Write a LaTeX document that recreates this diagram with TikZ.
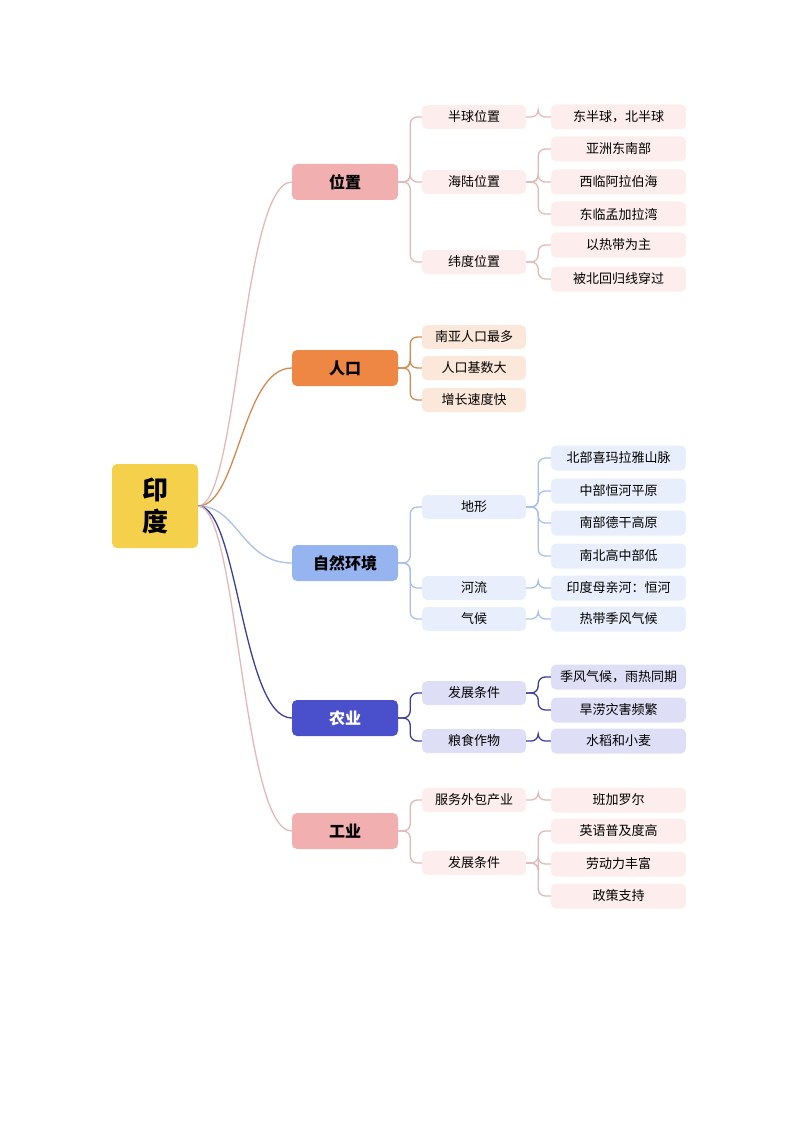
\documentclass[tikz,border=0pt]{standalone}
\usepackage{fontspec}
\newfontfamily\cjk{Noto Sans CJK SC}
\usetikzlibrary{positioning}

\begin{document}
\begin{tikzpicture}[x=1pt, y=-1pt,
    box/.style={rounded corners=5pt, inner sep=0pt, align=center},
    lvone/.style={box, minimum width=106pt, minimum height=36pt, font=\cjk\bfseries\fontsize{16}{18}\selectfont},
    lvtwo/.style={box, minimum width=104pt, minimum height=24pt, font=\cjk\fontsize{13}{15}\selectfont},
    lvthree/.style={box, minimum width=135pt, minimum height=25pt, font=\cjk\fontsize{13}{15}\selectfont},
    link/.style={line width=1.3pt, rounded corners=7pt}]
    % Colors
    \definecolor{rootcolor}{HTML}{F5D04A}
    \definecolor{pinkmain}{HTML}{F2AFAF}
    \definecolor{pinksub}{HTML}{FDEDED}
    \definecolor{pinkline}{HTML}{E2B8B8}
    \definecolor{orangemain}{HTML}{EE8644}
    \definecolor{orangesub}{HTML}{FCE8DA}
    \definecolor{orangeline}{HTML}{D38A50}
    \definecolor{bluemain}{HTML}{95B4F0}
    \definecolor{bluesub}{HTML}{E8EEFB}
    \definecolor{blueline}{HTML}{A9C1E8}
    \definecolor{indigomain}{HTML}{4A4FCC}
    \definecolor{indigosub}{HTML}{DEDEF6}
    \definecolor{indigoline}{HTML}{3A3F99}

    % Page
    \useasboundingbox (0,0) rectangle (794,1123);

    % Root
    \node[box, fill=rootcolor, minimum width=86pt, minimum height=84pt,
      font=\cjk\bfseries\fontsize{26}{32}\selectfont] (india) at (155,506) {印\\度};

    % Main branches
    \node[lvone, fill=pinkmain] (weizhi) at (345,182) {位置};
    \node[lvone, fill=orangemain] (renkou) at (345,368) {人口};
    \node[lvone, fill=bluemain] (ziran) at (345,563) {自然环境};
    \node[lvone, fill=indigomain, text=white] (nongye) at (345,718) {农业};
    \node[lvone, fill=pinkmain] (gongye) at (345,831) {工业};

    \foreach \n/\c in {weizhi/pinkline, renkou/orangeline, ziran/blueline, nongye/indigoline, gongye/pinkline}
      \draw[line width=1.3pt, \c] (india.east) .. controls +(40,0) and +(-50,0) .. (\n.west);

    % Second level
    \foreach \n/\y/\t/\f in {bqwz/117/半球位置/pinksub, hlwz/182/海陆位置/pinksub, wdwz/262/纬度位置/pinksub,
        nyrk/337/南亚人口最多/orangesub, rkjs/368/人口基数大/orangesub, zzsd/400/增长速度快/orangesub,
        dixing/507/地形/bluesub, heliu/588/河流/bluesub, qihou/619/气候/bluesub,
        nytj/693/发展条件/indigosub, lszw/741/粮食作物/indigosub,
        fwwb/800/服务外包产业/pinksub, gytj/863/发展条件/pinksub}
      \node[lvtwo, fill=\f] (\n) at (474,\y) {\t};

    % Third level
    \foreach \n/\y/\t/\f in {dbq/117/东半球，北半球/pinksub, yzdn/149/亚洲东南部/pinksub, xlab/182/西临阿拉伯海/pinksub,
        dlmj/214/东临孟加拉湾/pinksub, rdwz/245/以热带为主/pinksub, bhgx/279/被北回归线穿过/pinksub,
        bbxm/458/北部喜玛拉雅山脉/bluesub, zbhh/491/中部恒河平原/bluesub, nbdg/523/南部德干高原/bluesub,
        nbgd/556/南北高中部低/bluesub, mqh/588/印度母亲河：恒河/bluesub, rdjf/619/热带季风气候/bluesub,
        jfqh/677/季风气候，雨热同期/indigosub, hlzh/710/旱涝灾害频繁/indigosub, sdxm/741/水稻和小麦/indigosub,
        bjle/800/班加罗尔/pinksub, yypj/831/英语普及度高/pinksub, ldlf/864/劳动力丰富/pinksub, zczc/896/政策支持/pinksub}
      \node[lvthree, fill=\f] (\n) at (618.5,\y) {\t};

    % Links from main branches
    \foreach \a/\b/\c in {weizhi/bqwz/pinkline, weizhi/hlwz/pinkline, weizhi/wdwz/pinkline,
        renkou/nyrk/orangeline, renkou/rkjs/orangeline, renkou/zzsd/orangeline,
        ziran/dixing/blueline, ziran/heliu/blueline, ziran/qihou/blueline,
        nongye/nytj/indigoline, nongye/lszw/indigoline,
        gongye/fwwb/pinkline, gongye/gytj/pinkline}
      \draw[link, \c] (\a.east) -- ++(12,0) |- (\b.west);

    % Links to leaves
    \foreach \a/\b/\c in {bqwz/dbq/pinkline, hlwz/yzdn/pinkline, hlwz/xlab/pinkline, hlwz/dlmj/pinkline,
        wdwz/rdwz/pinkline, wdwz/bhgx/pinkline,
        dixing/bbxm/blueline, dixing/zbhh/blueline, dixing/nbdg/blueline, dixing/nbgd/blueline,
        heliu/mqh/blueline, qihou/rdjf/blueline,
        nytj/jfqh/indigoline, nytj/hlzh/indigoline, lszw/sdxm/indigoline,
        fwwb/bjle/pinkline, gytj/yypj/pinkline, gytj/ldlf/pinkline, gytj/zczc/pinkline}
      \draw[link, \c] (\a.east) -- ++(12,0) |- (\b.west);
\end{tikzpicture}
\end{document}
